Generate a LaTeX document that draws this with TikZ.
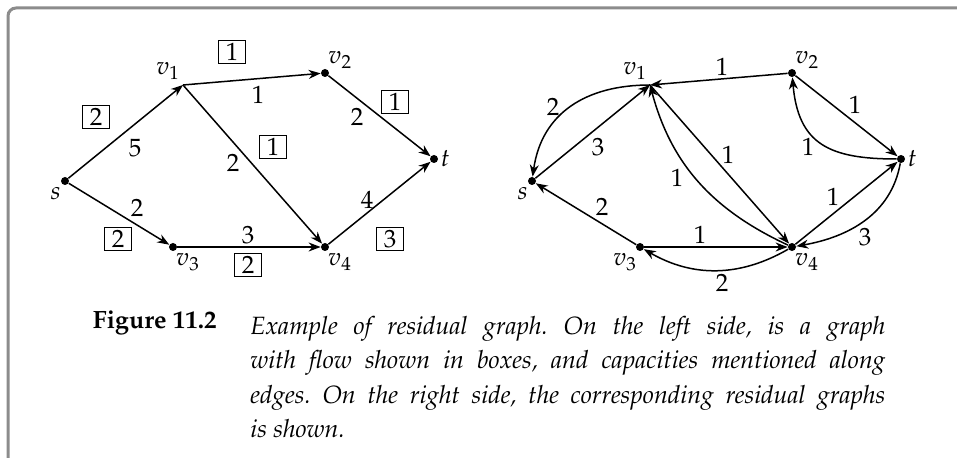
\documentclass[tikz,border=0pt]{standalone}
\usepackage[T1]{fontenc}
\usepackage{mathpazo}
\usepackage{xcolor}
\usetikzlibrary{arrows.meta}

\definecolor{framegray}{gray}{0.55}

\tikzset{
  vtx/.style={circle, fill, inner sep=0pt, minimum size=4pt},
  edgearr/.style={-{Stealth[length=6pt,width=4.5pt]}, line width=0.75pt},
  flowbox/.style={draw, line width=0.6pt, minimum width=13.5pt, minimum height=11.5pt, inner sep=1pt},
  lab/.style={inner sep=1pt},
}

\begin{document}
\begin{tikzpicture}[x=0.5pt, y=-0.5pt, font=\fontsize{12.5}{14}\selectfont]
\useasboundingbox (0,0) rectangle (957,458);
% Frame
\draw[framegray, line width=1.5pt, rounded corners=4pt] (8,470) -- (8,8) -- (970,8);

% Left: graph with flow and capacities
\begin{scope}
    \node[vtx, label={[lab]-112:$s$}] (s) at (65,181) {};
    \coordinate[label={[lab, label distance=1.5pt]105:$v_1$}] (v1) at (183,85);
    \node[vtx, label={[lab, label distance=-1pt]65:$v_2$}] (v2) at (325,73) {};
    \node[vtx, label={[lab]0:$t$}] (t) at (434,159) {};
    \node[vtx, label={[lab]-80:$v_3$}] (v3) at (173,247) {};
    \node[vtx, label={[lab]-80:$v_4$}] (v4) at (325,247) {};

    \draw[edgearr] (s) -- (v1);
    \draw[edgearr] (s) -- (v3);
    \draw[edgearr] (v1) -- (v2);
    \draw[edgearr] (v1) -- (v4);
    \draw[edgearr] (v2) -- (t);
    \draw[edgearr] (v3) -- (v4);
    \draw[edgearr] (v4) -- (t);

    % Capacities
    \node[lab] (c1) at (135,148) {5};
    \node[lab] (c2) at (137,208) {2};
    \node[lab] (c3) at (258,95) {1};
    \node[lab] (c4) at (233,163) {2};
    \node[lab] (c5) at (357,117) {2};
    \node[lab] (c6) at (367,200) {4};
    \node[lab] (c7) at (248,235) {3};

    % Flow (boxed)
    \node[flowbox] (f1) at (96,117) {2};
    \node[flowbox] (f2) at (118,239) {2};
    \node[flowbox] (f3) at (232,52) {1};
    \node[flowbox] (f4) at (273,147) {1};
    \node[flowbox] (f5) at (395,102) {1};
    \node[flowbox] (f6) at (390,239) {3};
    \node[flowbox] (f7) at (248,265) {2};
\end{scope}

% Right: residual graph
\begin{scope}[shift={(467,0)}]
    \node[vtx, label={[lab]-112:$s$}] (rs) at (65,181) {};
    \coordinate[label={[lab, label distance=1.5pt]105:$v_1$}] (rv1) at (183,85);
    \node[vtx, label={[lab, label distance=-1pt]65:$v_2$}] (rv2) at (325,73) {};
    \node[vtx, label={[lab]0:$t$}] (rt) at (434,159) {};
    \node[vtx, label={[lab]-100:$v_3$}] (rv3) at (173,247) {};
    \node[vtx, label={[lab]-80:$v_4$}] (rv4) at (325,247) {};

    \draw[edgearr] (rv2) -- (rv1);
    \draw[edgearr] (rs) -- (rv1);
    \draw[edgearr] (rv1) to[out=180, in=82, looseness=1.1] (rs);
    \draw[edgearr] (rv1) -- (rv4);
    \draw[edgearr] (rv4) to[out=155, in=-75] (rv1);
    \draw[edgearr] (rv2) -- (rt);
    \draw[edgearr] (rt) to[out=180, in=-85, looseness=1.3] (rv2);
    \draw[edgearr] (rv4) -- (rt);
    \draw[edgearr] (rt) to[out=-100, in=10] (rv4);
    \draw[edgearr] (rv3) -- (rs);
    \draw[edgearr] (rv3) -- (rv4);
    \draw[edgearr] (rv4) to[out=-150, in=-30] (rv3);

    % Residual capacities
    \node[lab] (r1) at (255,67) {1};
    \node[lab] (r2) at (131,147) {3};
    \node[lab] (r3) at (86,107) {2};
    \node[lab] (r4) at (261,155) {1};
    \node[lab] (r5) at (210,178) {1};
    \node[lab] (r6) at (388,105) {1};
    \node[lab] (r7) at (341,147) {1};
    \node[lab] (r8) at (366,197) {1};
    \node[lab] (r9) at (398,237) {3};
    \node[lab] (r10) at (135,207) {2};
    \node[lab] (r11) at (233,235) {1};
    \node[lab] (r12) at (255,283) {2};
\end{scope}

% Caption
\node[anchor=base east, inner sep=0pt, font=\fontsize{12.5}{14}\selectfont\bfseries] (fignum) at (217,329) {Figure 11.2};
\node[anchor=north west, inner sep=0pt, text width=317.5pt, align=justify,
      font=\fontsize{12.5}{17.25}\selectfont\itshape\frenchspacing] (captext) at (250,316)
    {Example of residual graph. On the left side, is a graph\linebreak
     with flow shown in boxes, and capacities mentioned along\linebreak
     edges. On the right side, the corresponding residual graphs\linebreak
     is shown.};
\end{tikzpicture}
\end{document}
